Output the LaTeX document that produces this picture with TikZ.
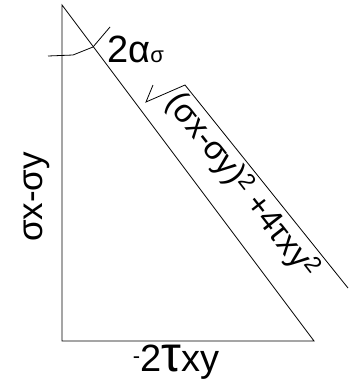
\documentclass[tikz,border=0pt]{standalone}
\usepackage{fontspec}
\setmainfont{Liberation Sans}
\begin{document}
\begin{tikzpicture}[
    x=1pt,y=-1pt,
    side/.style={line width=0.8pt},
    lbl/.style={inner sep=0pt,font=\fontsize{38}{38}\selectfont},
    >=stealth
]
\useasboundingbox (0,0) rectangle (355,388);
\coordinate (top) at (62,5);
\coordinate (corner) at (62,341);
\coordinate (foot) at (314,341);
\draw[side] (top)--(corner)--(foot)--cycle;

% angle mark and root sign
\draw[side] (48,56)--(73,55)--(93,47)--(110,27);
\draw[side] (153,85)--(146,102)--(185,85)--(348,288);

\node[lbl,rotate=90,font=\fontsize{35}{35}\selectfont] (diff) at (37,197) {σx-σy};
\node[lbl] (shear) at (176,362) {{\fontsize{22}{22}\selectfont\raisebox{8pt}{-}}2{\fontsize{50}{50}\selectfont τ}xy};
\node[lbl,anchor=base west] (angle) at (107,62) {2α{\fontsize{22}{22}\selectfont σ}};
\node[lbl,rotate=-52,font=\fontsize{33}{33}\selectfont] (radius) at (242,186) {(σx-σy)\textsuperscript{2} +4τxy\textsuperscript{2}};
\end{tikzpicture}
\end{document}
